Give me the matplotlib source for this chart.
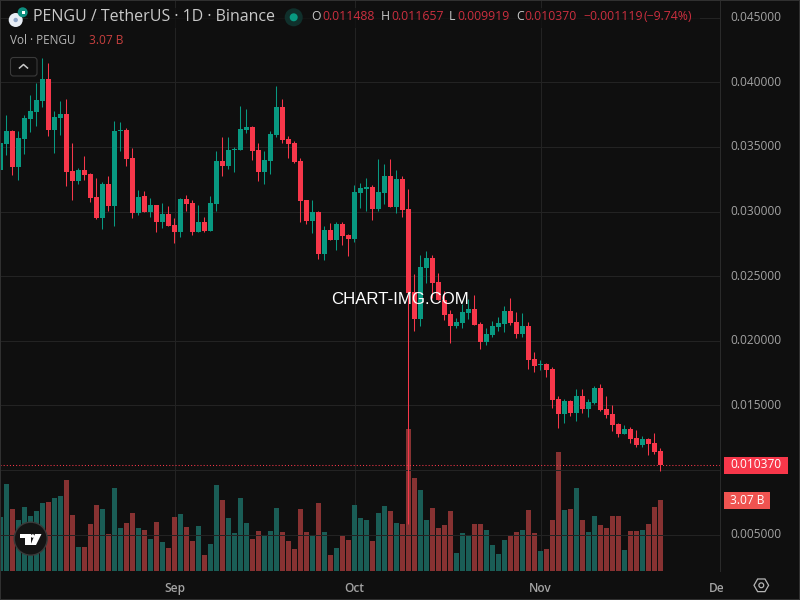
import numpy as np
import matplotlib
matplotlib.use('Agg')
import matplotlib.pyplot as plt
from matplotlib.patches import Circle, Rectangle, FancyBboxPatch, Polygon, RegularPolygon
from matplotlib.transforms import Bbox

plt.rcParams['font.family'] = ['Open Sans', 'DejaVu Sans']

# daily candles, prices in thousandths of USDT (3 Aug - 21 Nov)
opens = [33.21,35.22,36.23,33.44,35.61,37.16,37.70,38.55,40.26,36.31,37.24,37.55,33.13,32.36,33.21,32.90,31.12,29.50,32.13,30.43,
         36.23,36.31,34.14,29.88,31.20,29.96,30.50,29.19,29.81,28.96,28.41,30.97,30.66,28.41,29.19,28.49,30.58,33.91,33.52,34.76,
         34.76,36.31,36.54,34.76,33.06,33.91,35.92,38.09,35.61,35.30,33.91,30.89,29.26,29.96,26.71,28.57,27.79,29.03,28.18,27.87,
         31.43,31.74,31.89,30.19,31.43,32.75,30.35,32.51,30.19,23.80,21.71,25.65,26.43,24.57,23.18,22.09,21.16,21.40,22.17,22.48,
         21.32,19.93,20.47,21.09,21.32,22.32,21.47,20.54,21.16,18.61,18.14,18.22,17.84,15.51,14.35,15.36,14.43,15.75,14.74,15.20,
         16.36,14.74,14.35,13.58,12.80,13.19,12.49,11.95,12.42,12.11,11.488]
highs = [35.30,37.47,36.31,36.23,37.47,39.02,39.95,41.88,41.49,37.78,38.55,38.71,35.30,33.37,34.30,32.98,32.59,32.28,32.75,37.00,
         36.93,36.46,34.91,31.66,31.59,31.04,30.50,30.66,30.43,29.50,31.04,31.28,30.89,30.50,29.57,31.20,34.68,35.77,35.77,34.99,
         38.16,37.93,36.62,35.30,34.68,36.23,39.71,38.71,35.84,35.45,34.14,30.89,30.89,30.04,28.88,29.11,29.19,29.19,28.26,32.05,
         32.20,32.59,32.05,34.06,33.67,34.06,33.21,32.75,31.74,25.19,26.66,26.97,26.66,25.27,23.87,22.40,21.78,22.87,23.23,23.56,
         21.47,21.01,21.55,21.86,22.71,23.33,22.25,22.17,21.47,19.15,18.53,18.30,17.99,15.75,15.51,15.44,16.29,16.29,15.51,16.52,
         16.67,15.75,15.05,13.66,13.50,13.35,13.11,12.65,12.49,12.88,11.657]
lows = [33.00,34.37,32.83,32.44,34.45,36.15,36.62,38.09,35.84,34.53,35.92,31.97,30.89,32.13,32.44,30.74,29.42,28.65,30.04,28.88,
        34.68,33.52,29.50,29.73,29.96,29.57,28.41,28.72,28.88,27.56,28.03,30.04,28.18,28.41,28.41,28.49,30.04,32.75,33.29,33.06,
        34.76,36.07,33.98,32.36,32.13,32.90,35.76,35.30,34.14,33.75,29.19,29.03,28.33,26.32,26.24,27.79,27.02,27.40,26.55,27.64,
        30.27,30.04,29.34,30.04,30.58,30.35,29.88,29.57,5.84,20.78,21.16,24.49,23.30,23.18,21.63,19.85,21.01,21.01,21.71,21.24,
        19.38,19.69,20.31,20.78,20.70,21.24,20.23,20.31,17.84,17.60,17.76,17.22,14.82,13.27,13.66,14.20,13.81,14.43,14.12,15.13,
        14.58,14.04,13.04,12.57,12.80,12.11,11.80,11.80,11.18,11.26,9.919]
closes = [35.30,36.23,33.44,35.69,37.24,37.78,38.63,40.26,36.31,37.31,37.55,33.06,32.36,33.21,32.83,31.04,29.50,32.13,30.43,36.23,
          36.31,34.06,29.88,31.12,29.96,30.50,29.19,29.81,28.88,28.41,30.97,30.58,28.41,29.19,28.49,30.66,33.91,33.52,34.76,34.84,
          36.38,36.54,34.68,33.06,33.98,36.00,38.09,35.53,35.22,33.83,30.81,29.26,29.96,26.71,28.57,27.79,29.03,28.10,27.87,31.51,
          31.82,31.89,30.19,31.51,32.75,30.35,32.51,30.11,23.69,21.71,25.73,26.43,24.49,23.18,22.01,21.16,21.47,22.25,22.48,21.24,
          19.93,20.54,21.16,21.40,22.32,21.40,20.54,21.16,18.53,18.07,18.22,17.76,15.44,14.35,15.36,14.43,15.75,14.74,15.28,16.36,
          14.66,14.27,13.50,12.80,13.19,12.42,11.95,12.42,12.03,11.41,10.370]
# volume in billions
volumes = [2.33,3.76,2.68,2.20,2.77,2.38,2.59,2.94,2.98,3.16,3.24,3.93,2.42,1.04,1.04,2.03,2.85,2.68,1.60,3.59,
           1.86,2.07,2.51,1.86,1.77,1.38,2.12,1.25,0.99,2.33,2.46,1.90,1.30,1.95,0.69,1.17,3.72,3.07,2.29,1.64,
           3.16,2.07,1.38,1.73,1.56,1.73,2.72,1.69,1.30,0.95,2.68,1.69,1.56,2.94,1.69,0.69,0.99,1.56,1.34,2.85,
           2.29,2.20,1.30,2.51,2.81,2.59,2.07,2.03,6.14,4.02,3.50,2.20,2.72,1.86,1.99,2.59,0.78,1.64,1.51,2.03,
           2.03,1.77,1.12,0.73,1.34,1.56,1.69,1.77,2.64,1.64,0.86,0.95,2.20,5.14,2.64,2.68,3.59,2.20,1.69,2.38,
           1.99,1.86,2.38,2.38,0.91,1.73,1.73,1.77,2.03,2.77,3.07]

price_ticks = [5, 10, 15, 20, 25, 30, 35, 40, 45]
month_pos = [29, 59, 90, 120]
month_names = ['Sep', 'Oct', 'Nov', 'Dec']
last_price = 10.370

BG = '#0f0f0f'
GRID = '#232323'
UP = '#089981'
DOWN = '#f7374a'
VOL_UP = '#1a5d56'
VOL_DOWN = '#873232'
AXIS_TXT = '#a3a3a3'

opens = np.array(opens)
closes = np.array(closes)
highs = np.array(highs)
lows = np.array(lows)
volumes = np.array(volumes)
x = np.arange(len(opens))
is_up = closes >= opens

fig = plt.figure(figsize=(8, 6), dpi=100, facecolor=BG)
pos = [0, 29 / 600, 720 / 800, 571 / 600]

# volume pane sits under the price pane and holds the grid
ax_vol = fig.add_axes(pos, facecolor=BG, zorder=1)
ax_vol.set_xlim(-0.5 / 6, 719.5 / 6)
ax_vol.set_ylim(0, 571 / 23.1)
ax_vol.axis('off')
for m in month_pos:
    ax_vol.axvline(m, color=GRID, lw=0.72, zorder=0)
ax_vol.bar(x, volumes, width=5 / 6, color=[VOL_UP if u else VOL_DOWN for u in is_up], zorder=2, linewidth=0)

ax = fig.add_axes(pos, zorder=2)
ax.patch.set_visible(False)
ax.set_xlim(-0.5 / 6, 719.5 / 6)
ax.set_ylim(2.175, 46.37)
for p in price_ticks:
    ax.axhline(p, color=GRID, lw=0.72, zorder=0)

colors = np.where(is_up, UP, DOWN)
ax.vlines(x, lows, highs, colors=colors, lw=0.75, zorder=3)
ax.bar(x, np.maximum(np.abs(closes - opens), 0.08), bottom=np.minimum(opens, closes), width=5 / 6,
       color=colors, zorder=4, linewidth=0)
ax.axhline(last_price, color=DOWN, lw=0.75, ls=(0, (1, 2)), zorder=5)

ax.yaxis.tick_right()
ax.set_yticks(price_ticks)
ax.set_yticklabels(['' if p == 10 else f'{p / 1000:.6f}' for p in price_ticks], color=AXIS_TXT, fontsize=8.6, va='center')
ax.tick_params(axis='y', length=0, pad=7.5)
ax.set_xticks(month_pos)
ax.set_xticklabels(month_names, color=AXIS_TXT, fontsize=8.6, fontweight='semibold')
ax.tick_params(axis='x', length=0, pad=8)
# Dec is cut off by the price scale
dec_label = ax.get_xticklabels()[-1]
dec_label.set_clip_on(True)
dec_label.set_clip_box(Bbox([[0, 0], [723, 600]]))
for s in ax.spines.values():
    s.set_visible(False)
ax.spines['right'].set_visible(True)
ax.spines['right'].set_color('#2a2a2a')
ax.spines['right'].set_linewidth(0.72)

# header, labels and icons drawn in pixel coordinates
ui = fig.add_axes([0, 0, 1, 1], zorder=5)
ui.set_xlim(0, 800)
ui.set_ylim(600, 0)
ui.axis('off')

ui.add_patch(Rectangle((28, 8), 672, 20, facecolor=BG, alpha=0.75, linewidth=0))

ui.add_patch(Circle((15.7, 20), 7, facecolor='#e8eef5', edgecolor='none'))
ui.add_patch(Circle((15.7, 20), 2.2, facecolor='#8fa6c8', edgecolor='none'))
ui.add_patch(Circle((22.7, 12.3), 5, facecolor='#0e8f80', edgecolor='none'))
ui.add_patch(Rectangle((21.5, 10.5), 3, 3, facecolor='white', linewidth=0))

ui.text(33, 17, 'PENGU / TetherUS · 1D · Binance', color='#c9c9c9', fontsize=11.55, va='center', ha='left')
ui.add_patch(Circle((293.7, 17.3), 9, facecolor='#10302c', edgecolor='none'))
ui.add_patch(Circle((293.7, 17.3), 4, facecolor=UP, edgecolor='none'))

OHLC_RED = '#cc2f3f'
header_items = [
    (311, 'O', '#c9c9c9'), (322, '0.011488', OHLC_RED),
    (381, 'H', '#c9c9c9'), (391, '0.011657', OHLC_RED),
    (449, 'L', '#c9c9c9'), (457, '0.009919', OHLC_RED),
    (516, 'C', '#c9c9c9'), (524, '0.010370', OHLC_RED),
    (583, '−0.001119', OHLC_RED), (644, '(−9.74%)', OHLC_RED),
]
for hx, label, col in header_items:
    ui.text(hx, 17, label, color=col, fontsize=8.8, va='center', ha='left')

ui.text(10, 41, 'Vol · PENGU', color='#b5b5b5', fontsize=8.5, va='center', ha='left')
ui.text(89, 41, '3.07 B', color='#c9403f', fontsize=8.6, va='center', ha='left')

ui.add_patch(FancyBboxPatch((10.5, 57.5), 26.5, 18.5, boxstyle='round,pad=0,rounding_size=3',
                            facecolor=BG, edgecolor='#3a3a3a', lw=0.8))
ui.plot([19.5, 23.5, 27.5], [68, 64.5, 68], color='#c8c8c8', lw=1.1)

# last price and volume tags
ui.add_patch(Rectangle((724, 457), 64, 16.7, facecolor=DOWN, linewidth=0))
ui.text(756, 465, '0.010370', color='white', fontsize=8.6, va='center', ha='center')
ui.add_patch(Rectangle((724, 492), 46, 17, facecolor='#ef5350', linewidth=0))
ui.text(747, 500, '3.07 B', color='white', fontsize=8.6, va='center', ha='center')

ui.text(400, 300, 'CHART-IMG.COM', color='white', fontsize=12.1, family='Liberation Sans', va='center', ha='center')

# TradingView badge
ui.add_patch(Circle((30.7, 538.7), 16.5, facecolor='#141414', edgecolor='#3a3a3a', lw=1))
ui.add_patch(Polygon([(20, 534), (30.7, 534), (30.7, 545), (25, 545), (25, 538), (20, 538)], facecolor='white', linewidth=0))
ui.add_patch(Circle((32.7, 536), 1.8, facecolor='white', edgecolor='none'))
ui.add_patch(Polygon([(35, 534), (41.5, 534), (36, 545), (30.5, 545)], facecolor='white', linewidth=0))

# settings hexagon
ui.add_patch(RegularPolygon((761.3, 585.3), 6, radius=7.3, orientation=np.pi / 6, fill=False, edgecolor='#b5b5b5', lw=0.9))
ui.add_patch(Circle((761.3, 585.3), 2.4, fill=False, edgecolor='#b5b5b5', lw=0.9))

ui.add_patch(Rectangle((0, 0), 800, 600, fill=False, edgecolor='#303030', lw=1.44))

fig.savefig('out.png', dpi=100, facecolor=BG)
